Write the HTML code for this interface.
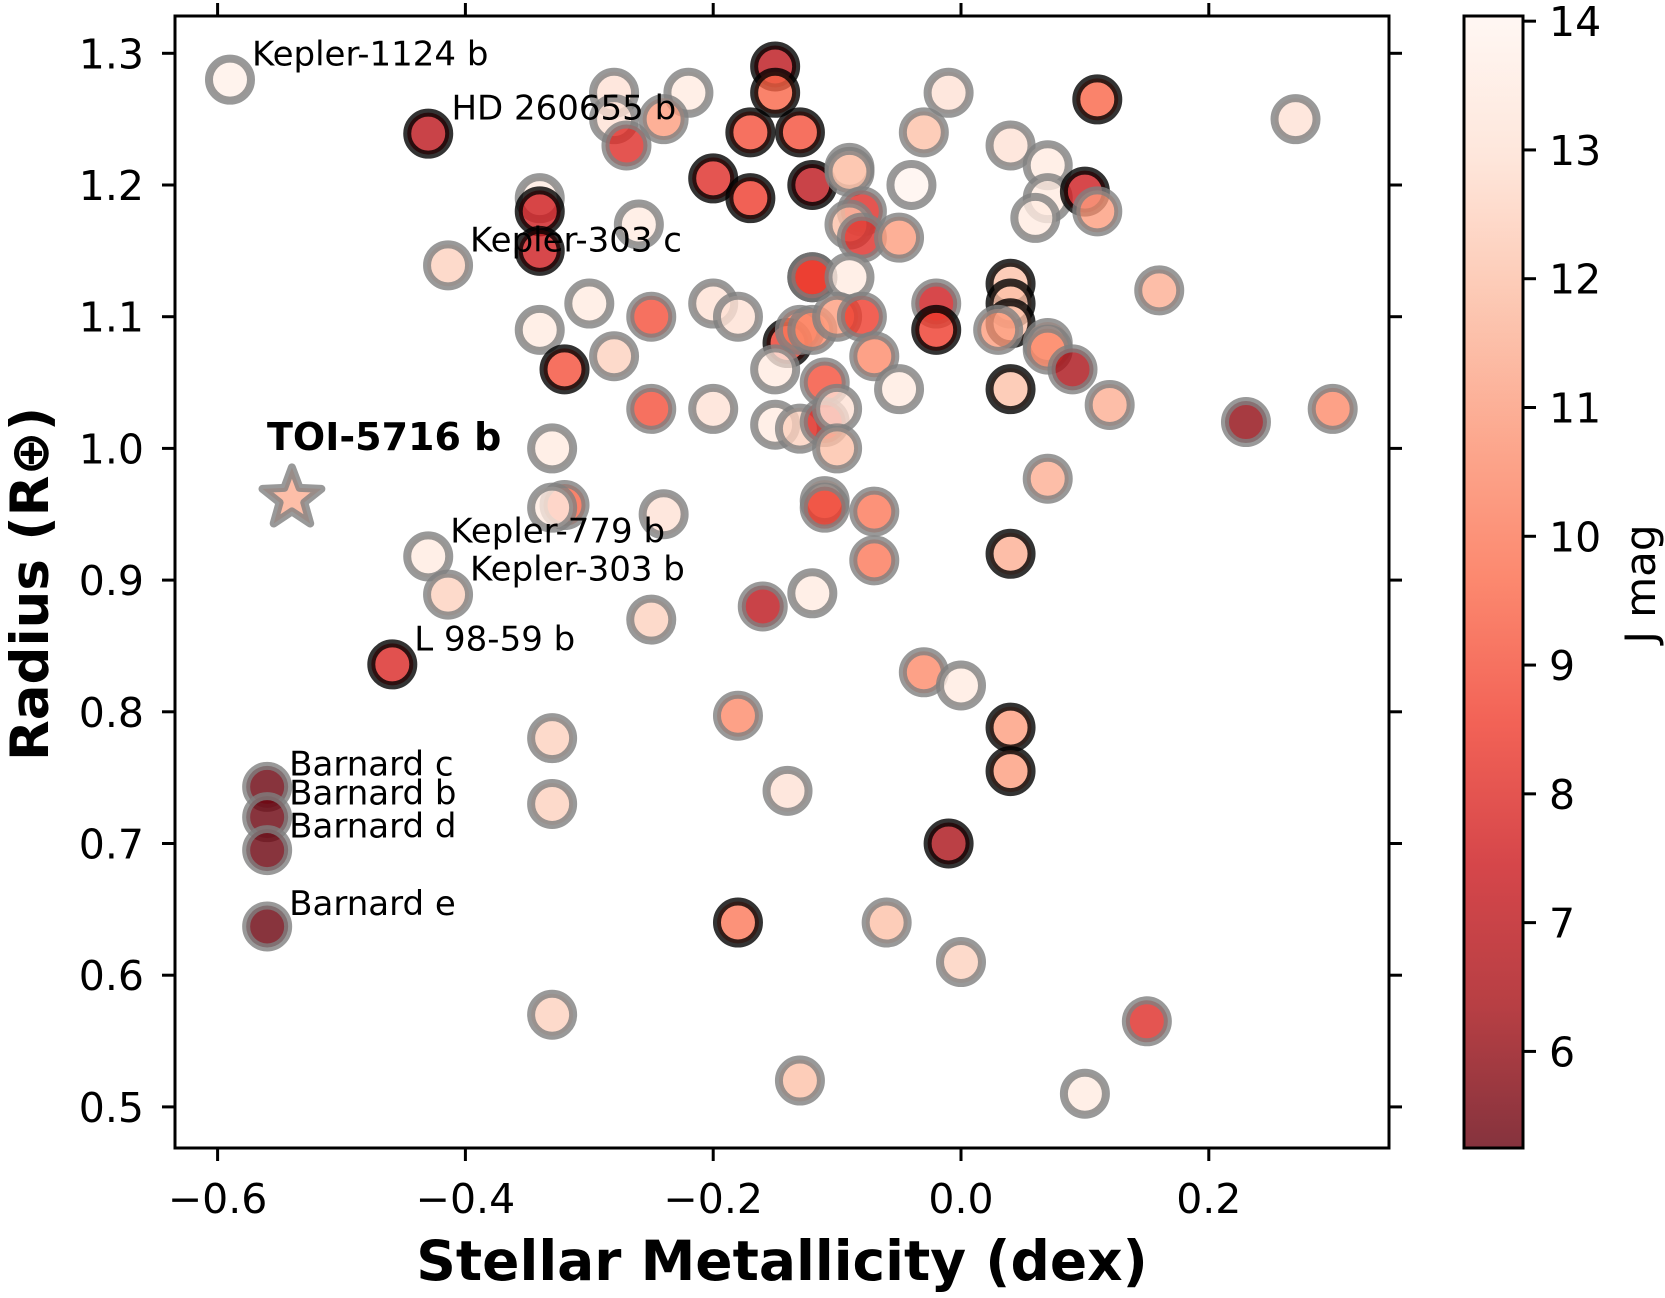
<!DOCTYPE html>
<html><head><meta charset="utf-8"><style>
html,body{margin:0;padding:0;background:#fff;}
svg{display:block;font-family:"DejaVu Sans","Liberation Sans",sans-serif;}
</style></head><body>
<svg id="chart" width="1665" height="1298" viewBox="0 0 1665 1298" xmlns="http://www.w3.org/2000/svg">
<defs>
<linearGradient id="cbgrad" x1="0" y1="1" x2="0" y2="0">
<stop offset="0" stop-color="#67000d"/><stop offset="0.125" stop-color="#a50f15"/><stop offset="0.25" stop-color="#cb181d"/><stop offset="0.375" stop-color="#ef3b2c"/><stop offset="0.5" stop-color="#fb6a4a"/><stop offset="0.625" stop-color="#fc9272"/><stop offset="0.75" stop-color="#fcbba1"/><stop offset="0.875" stop-color="#fee0d2"/><stop offset="1" stop-color="#fff5f0"/>
</linearGradient>
</defs>
<g id="marks"></g>
<g id="labels"></g>
<g id="axes"></g>
</svg>
<script>
const metal = [-0.28,-0.22,-0.24,-0.28,-0.27,-0.15,-0.15,-0.17,-0.13,-0.2,-0.17,-0.12,-0.34,-0.34,-0.34,-0.26,-0.09,-0.09,-0.08,-0.09,-0.08,-0.05,-0.04,-0.03,-0.01,0.04,0.07,0.07,0.06,0.11,0.1,0.11,0.16,0.27,-0.12,-0.12,-0.09,-0.3,-0.25,-0.2,-0.18,-0.34,-0.28,-0.32,-0.14,-0.13,-0.12,-0.1,-0.08,-0.07,-0.15,-0.11,-0.05,-0.02,-0.02,0.04,0.04,0.04,0.03,0.07,0.07,0.09,0.04,0.12,0.23,0.3,-0.25,-0.2,-0.15,-0.13,-0.11,-0.1,-0.1,-0.33,-0.32,-0.33,-0.24,-0.11,-0.11,-0.07,-0.07,-0.12,-0.16,-0.25,0.04,0.07,-0.03,0.0,-0.18,0.04,0.04,-0.33,-0.33,-0.14,-0.01,-0.18,-0.06,0.0,-0.33,0.15,-0.13,0.1,
-0.59,-0.43,-0.414,-0.43,-0.414,-0.459,-0.56,-0.56,-0.56,-0.56];
const radius = [1.27,1.27,1.25,1.25,1.23,1.29,1.27,1.24,1.24,1.205,1.19,1.2,1.19,1.18,1.15,1.17,1.213,1.21,1.18,1.17,1.16,1.16,1.2,1.24,1.27,1.23,1.215,1.19,1.175,1.265,1.195,1.18,1.12,1.25,1.13,1.13,1.13,1.11,1.1,1.11,1.1,1.09,1.07,1.06,1.08,1.09,1.09,1.1,1.1,1.07,1.06,1.05,1.045,1.11,1.09,1.125,1.11,1.095,1.09,1.08,1.075,1.06,1.045,1.033,1.02,1.03,1.03,1.03,1.018,1.015,1.02,1.03,1.0,1.0,0.957,0.955,0.95,0.96,0.955,0.952,0.915,0.89,0.88,0.87,0.92,0.977,0.83,0.82,0.797,0.788,0.755,0.78,0.73,0.74,0.7,0.64,0.64,0.61,0.57,0.565,0.52,0.51,
1.28,1.239,1.139,0.918,0.889,0.836,0.743,0.72,0.695,0.637];
const jmag = [13,13.5,11,13,8,7,9.5,9,9,8,8.5,7,13.5,7.5,7.5,13.5,13,12,8,12,8,11,14,12,13,13,13.5,13.5,13.5,9.5,7.5,11,11.5,13,8,8.5,13.5,13.5,9,13,13,13.5,12.5,9,8.5,10,10.5,11,8.5,10.5,13.5,9,13.5,7.5,8.5,12,12,12,11,11.5,10.5,6.5,12,11.5,6,10.5,9,13,13.5,12.5,8,13,12,13.5,9.5,13.5,13,12,8.5,10,10,13.5,7,12.5,11.5,11.5,10.5,13.5,10.5,11,11,12.5,12.5,13,6.5,10,12,12.5,12.5,8,12,13.5,
13.8,7,12.5,13.5,12.5,7.9,5.3,5.3,5.3,5.3];
const edge = ["g","g","g","g","g","k","k","k","k","k","k","k","g","k","k","g","g","g","g","g","g","g","g","g","g","g","g","g","g","k","k","g","g","g","k","g","g","g","g","g","g","g","g","k","k","g","g","g","g","g","g","g","g","g","k","k","k","k","g","g","g","g","k","g","g","g","g","g","g","g","g","g","g","g","g","g","g","g","g","g","g","g","g","g","k","g","g","g","g","k","k","g","g","g","k","k","g","g","g","g","g","g",
"g","k","g","g","g","k","g","g","g","g"];
const labelText = ["Kepler-1124 b","HD 260655 b","Kepler-303 c","Kepler-779 b","Kepler-303 b","L 98-59 b","Barnard c","Barnard b","Barnard d","Barnard e"];
const labelX = [-0.59,-0.429,-0.414,-0.43,-0.414,-0.459,-0.56,-0.56,-0.56,-0.56];
const labelY = [1.28,1.239,1.139,0.918,0.889,0.836,0.741,0.719,0.694,0.635];
const starX = [-0.54];
const starY = [0.962];
const starJ = [11.5];
const xTicks = [-0.6,-0.4,-0.2,0.0,0.2];
const xTickLabels = ["\u22120.6","\u22120.4","\u22120.2","0.0","0.2"];
const yTicks = [0.5,0.6,0.7,0.8,0.9,1.0,1.1,1.2,1.3];
const yTickLabels = ["0.5","0.6","0.7","0.8","0.9","1.0","1.1","1.2","1.3"];
const cbTicks = [6,7,8,9,10,11,12,13,14];

const NS="http://www.w3.org/2000/svg";
const L=175,R=1389,T=16,B=1148;
function sx(v){return 961+v*1239;}
function sy(v){return 53.3+(1.3-v)*1317;}
const cbMin=5.25,cbMax=14.04,cbL=1464,cbR=1523;
function cy(v){return B-(v-cbMin)/(cbMax-cbMin)*(B-T);}
const stops=[[103,0,13],[165,15,21],[203,24,29],[239,59,44],[251,106,74],[252,146,114],[252,187,161],[254,224,210],[255,245,240]];
function cmap(v){let t=(v-cbMin)/(cbMax-cbMin);t=Math.max(0,Math.min(1,t))*8;let i=Math.min(7,Math.floor(t)),f=t-i;const a=stops[i],b=stops[i+1];
return "rgb("+[0,1,2].map(k=>Math.round(a[k]+(b[k]-a[k])*f)).join(",")+")";}
function mk(tag,attrs,parent){const e=document.createElementNS(NS,tag);for(const k in attrs)e.setAttribute(k,attrs[k]);parent.appendChild(e);return e;}

const gm=document.getElementById("marks");
for(let i=0;i<metal.length;i++){
  const c=mk("circle",{cx:sx(metal[i]),cy:sy(radius[i]),r:21,fill:cmap(jmag[i]),"fill-opacity":0.8,stroke:edge[i]==="k"?"#000":"#808080","stroke-opacity":0.8,"stroke-width":8},gm);
  
  
}
for(let i=0;i<starX.length;i++){
  const cx=sx(starX[i]),cyy=sy(starY[i]);let pts=[];
  for(let k=0;k<10;k++){const ang=-Math.PI/2+k*Math.PI/5;const rr=k%2?13:31;pts.push((cx+rr*Math.cos(ang)).toFixed(1)+","+(cyy+rr*Math.sin(ang)).toFixed(1));}
  const s=mk("polygon",{points:pts.join(" "),fill:cmap(starJ[i]),"fill-opacity":0.8,stroke:"#808080","stroke-opacity":0.8,"stroke-width":8,"stroke-linejoin":"round"},gm);
  
  
}
const gl=document.getElementById("labels");
for(let i=0;i<labelText.length;i++){
  const t=mk("text",{x:sx(labelX[i])+22,y:sy(labelY[i])-14,"font-size":34,fill:"#000"},gl);
  t.textContent=labelText[i];
  
  
}
const tl=mk("text",{x:267,y:450,"font-size":38,"font-weight":"bold",fill:"#000"},gl);
tl.textContent="TOI-5716 b";



const ga=document.getElementById("axes");
const frame=mk("rect",{x:L,y:T,width:R-L,height:B-T,fill:"none",stroke:"#000","stroke-width":3},ga);


xTicks.forEach((v,i)=>{const x=sx(v);
  mk("line",{x1:x,x2:x,y1:B,y2:B+13,stroke:"#000","stroke-width":3},ga);
  mk("line",{x1:x,x2:x,y1:T,y2:T-13,stroke:"#000","stroke-width":3},ga);
  const t=mk("text",{x:x,y:1213,"font-size":41,"text-anchor":"middle"},ga);t.textContent=xTickLabels[i];
  
  
});
yTicks.forEach((v,i)=>{const y=sy(v);
  mk("line",{x1:L,x2:L-13,y1:y,y2:y,stroke:"#000","stroke-width":3},ga);
  mk("line",{x1:R,x2:R+13,y1:y,y2:y,stroke:"#000","stroke-width":3},ga);
  const t=mk("text",{x:144,y:y+15,"font-size":41,"text-anchor":"end"},ga);t.textContent=yTickLabels[i];
  
  
});
const xl=mk("text",{x:782,y:1280,"font-size":55,"font-weight":"bold","text-anchor":"middle"},ga);
xl.textContent="Stellar Metallicity (dex)";


const yl=mk("text",{x:0,y:0,"font-size":53,"font-weight":"bold","text-anchor":"middle",transform:"translate(48,584) rotate(-90)"},ga);
yl.textContent="Radius (R\u2295)";


const cb=mk("rect",{x:cbL,y:T,width:cbR-cbL,height:B-T,fill:"url(#cbgrad)","fill-opacity":0.8,stroke:"#000","stroke-width":3},ga);


cbTicks.forEach(v=>{const y=cy(v);
  mk("line",{x1:cbR,x2:cbR+13,y1:y,y2:y,stroke:"#000","stroke-width":3},ga);
  const t=mk("text",{x:1549,y:y+15,"font-size":41},ga);t.textContent=String(v);
  
  
});
const cl=mk("text",{x:0,y:0,"font-size":42,"text-anchor":"middle",transform:"translate(1655,584) rotate(-90)"},ga);
cl.textContent="J mag";


</script>
</body></html>
